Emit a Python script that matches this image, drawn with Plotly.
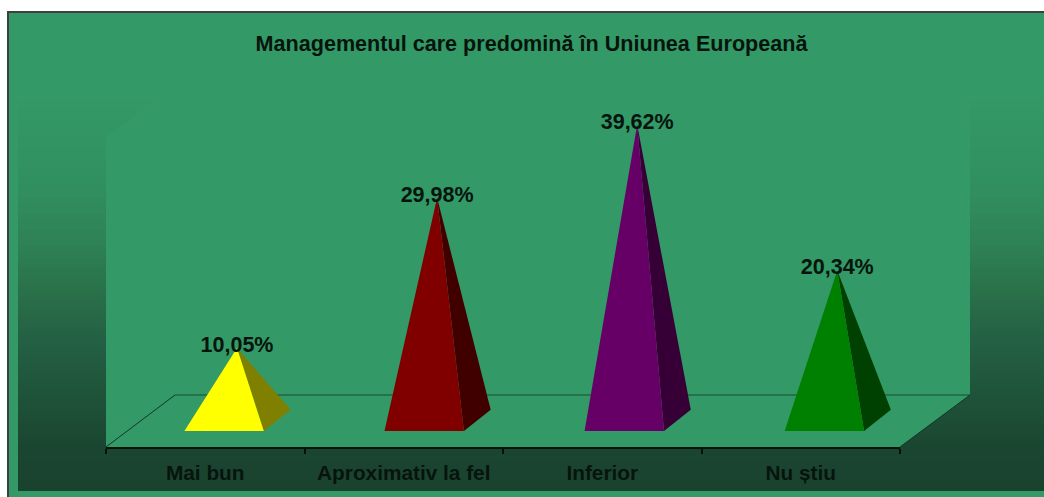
import plotly.graph_objects as go

TITLE = "Managementul care predomină în Uniunea Europeană"
categories = ["Mai bun", "Aproximativ la fel", "Inferior", "Nu știu"]
values = [10.05, 29.98, 39.62, 20.34]
front_colors = ["#FFFF00", "#800000", "#660066", "#008000"]
side_colors = ["#808000", "#400000", "#360036", "#004000"]

W, H = 1044, 497
FONT = "Liberation Sans"
INK = "#07140e"
GREEN = "#339966"


def px(x):
    return x / W


def py(y):
    return 1 - y / H


def hex2rgb(c):
    return tuple(int(c[i:i + 2], 16) for i in (1, 3, 5))


grad_stops = [(95, "#339966"), (190, "#318f5f"), (250, "#2e8054"), (290, "#2a7149"),
              (340, "#246044"), (390, "#1f553a"), (450, "#1a4530"), (491, "#1a432e")]


def grad(y):
    for (a, ca), (b, cb) in zip(grad_stops, grad_stops[1:]):
        if a <= y <= b:
            t = (y - a) / (b - a)
            r = [round(p + (q - p) * t) for p, q in zip(hex2rgb(ca), hex2rgb(cb))]
            return f"rgb({r[0]},{r[1]},{r[2]})"
    return GREEN


def rect(x0, y0, x1, y1, color):
    return dict(type="rect", xref="paper", yref="paper", layer="below", x0=px(x0), x1=px(x1),
                y0=py(y1), y1=py(y0), fillcolor=color, line_width=0)


def line(x0, y0, x1, y1, color="#12352a", width=1):
    return dict(type="line", xref="paper", yref="paper", layer="below", x0=px(x0), x1=px(x1),
                y0=py(y0), y1=py(y1), line=dict(color=color, width=width))


shapes = [rect(7, 11, W + 2, H + 2, "#3f3f3f"), rect(9, 13, W + 2, H + 2, GREEN)]
for y in range(95, 491, 2):
    shapes.append(rect(18, y, W + 2, y + 2, grad(y + 1)))


def poly(pts):
    d = "M" + " L".join(f"{px(x):.5f},{py(y):.5f}" for x, y in pts) + " Z"
    return dict(type="path", xref="paper", yref="paper", layer="below", path=d,
                fillcolor=GREEN, line_width=0)


# walls and floor
shapes.append(poly([(106, 447), (106, 137), (175, 85), (970, 85), (970, 395), (900, 447)]))
shapes += [line(106, 447, 175, 395), line(175, 395, 970, 395, "#1a4a33"), line(970, 395, 900, 447)]

fig = go.Figure()
BASE = -0.93
tips = [0.66 + 1.008 * i for i in range(len(values))]
for tip, v, fc, sc in zip(tips, values, front_colors, side_colors):
    left, right = tip - 0.265, tip + 0.135
    back = right + 0.135
    fig.add_trace(go.Scatter(x=[right, back, tip, right], y=[BASE, BASE + 2.8, v, BASE],
                             mode="lines", fill="toself", fillcolor=sc, line=dict(width=0),
                             hoverinfo="skip", showlegend=False))
    fig.add_trace(go.Scatter(x=[left, right, tip, left], y=[BASE, BASE, v, BASE],
                             mode="lines", fill="toself", fillcolor=fc, line=dict(width=0),
                             hoverinfo="skip", showlegend=False))

fig.add_trace(go.Scatter(
    x=tips,
    y=[v + 0.2 for v in values],
    mode="text",
    text=[("<b>" + f"{v:.2f}".replace(".", ",") + "%</b>") for v in values],
    textposition="middle center",
    textfont=dict(family=FONT, size=21.5, color=INK),
    cliponaxis=False, hoverinfo="skip", showlegend=False))

fig.update_layout(
    width=W, height=H, margin=dict(l=0, r=0, t=0, b=0),
    paper_bgcolor="white", plot_bgcolor="rgba(0,0,0,0)",
    shapes=shapes,
    title=dict(text=f"<b>{TITLE}</b>", x=531.5 / W, y=py(43), xanchor="center", yanchor="middle",
               xref="paper", yref="paper", font=dict(family=FONT, size=21.6, color=INK)),
    xaxis=dict(domain=[px(106), px(900)], range=[0, 4], showgrid=False, zeroline=False,
               tickmode="array", tickvals=[i + 0.5 for i in range(4)],
               ticktext=[f"<b>{c}</b>" for c in categories], ticks="",
               tickfont=dict(family=FONT, size=20.8, color=INK), ticklabelstandoff=6,
               showline=True, linecolor="#05120c", linewidth=1.5,
               minor=dict(tickmode="array", tickvals=[0, 1, 2, 3, 4], ticks="outside", ticklen=5,
                          tickcolor="#05120c", tickwidth=1.5)),
    yaxis=dict(domain=[py(447), py(85)], range=[-3.05, 44.9], visible=False),
)
fig.write_html("out.html", config={"displayModeBar": False},
               post_script="document.body.style.margin='0';")
